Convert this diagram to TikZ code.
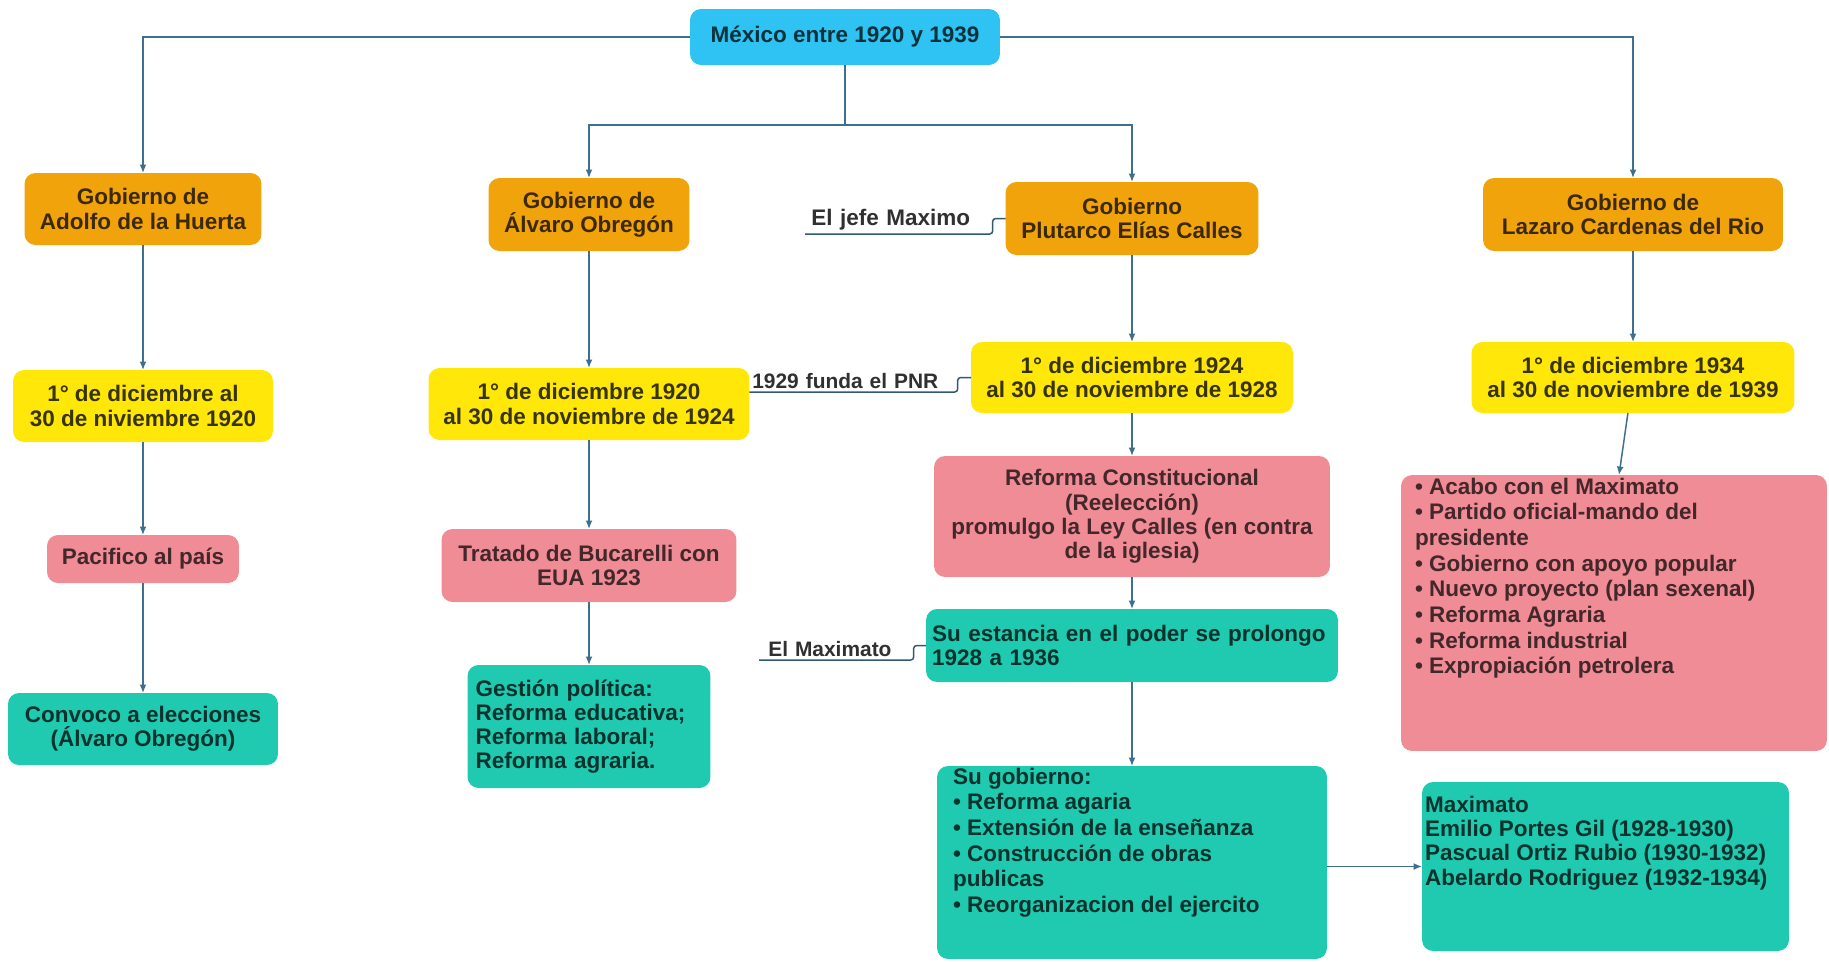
\documentclass[tikz,border=0pt]{standalone}
\usepackage{fontspec}
\setmainfont{Liberation Sans}
\usetikzlibrary{arrows.meta}

\definecolor{celeste}{HTML}{2EC3F2}
\definecolor{naranja}{HTML}{F0A30B}
\definecolor{amarillo}{HTML}{FFE70A}
\definecolor{rosa}{HTML}{EF8C96}
\definecolor{verde}{HTML}{1FCAB0}
\definecolor{azulgris}{HTML}{3F6F8E}
\definecolor{tinta}{HTML}{303030}

\tikzset{
  caja/.style={rounded corners=0.22cm, align=center, inner sep=0.1cm, outer sep=0pt,
    font=\fontsize{12.8}{13.8}\selectfont\bfseries},
  raiz/.style={caja, fill=celeste, text=celeste!25!black},
  gobierno/.style={caja, fill=naranja, text=naranja!25!black},
  fecha/.style={caja, fill=amarillo, text=amarillo!22!black},
  hecho/.style={caja, fill=rosa, text=rosa!28!black},
  logro/.style={caja, fill=verde, text=verde!25!black},
  etiqueta/.style={anchor=south west, align=left, inner ysep=0.06cm, text=tinta,
    font=\fontsize{12.8}{13.8}\selectfont\bfseries},
  flecha/.style={draw=azulgris, line width=0.03cm, -{Latex[length=0.17cm,width=0.14cm]}},
  tramo/.style={draw=azulgris, line width=0.03cm},
  enlace/.style={draw=azulgris!80!black, line width=0.03cm, rounded corners=0.06cm}
}
\newcommand{\renglones}{\fontsize{12.8}{14.6}\selectfont}

\begin{document}
\begin{tikzpicture}[x=0.02cm, y=-0.02cm]
\useasboundingbox (0,0) rectangle (1829,961);

%%%%% START %%%%%

\node[raiz, minimum width=6.2cm, minimum height=1.12cm] (mexico) at (845,37) {México entre 1920 y 1939};

% gobiernos
\node[gobierno, minimum width=4.74cm, minimum height=1.44cm] (huerta) at (143,209) {Gobierno de\\Adolfo de la Huerta};
\node[gobierno, minimum width=4.02cm, minimum height=1.46cm] (obregon) at (589,214.5) {Gobierno de\\Álvaro Obregón};
\node[gobierno, minimum width=5.06cm, minimum height=1.46cm] (calles) at (1132,218.5) {Gobierno\\Plutarco Elías Calles};
\node[gobierno, minimum width=6.0cm, minimum height=1.46cm] (cardenas) at (1633,214.5) {Gobierno de\\Lazaro Cardenas del Rio};

% periodos
\node[fecha, minimum width=5.2cm, minimum height=1.44cm] (fecha1) at (143,406) {1° de diciembre al\\30 de niviembre 1920};
\node[fecha, minimum width=6.42cm, minimum height=1.44cm] (fecha2) at (589,404) {1° de diciembre 1920\\al 30 de noviembre de 1924};
\node[fecha, minimum width=6.44cm, minimum height=1.42cm] (fecha3) at (1132,377.5) {1° de diciembre 1924\\al 30 de noviembre de 1928};
\node[fecha, minimum width=6.46cm, minimum height=1.42cm] (fecha4) at (1633,377.5) {1° de diciembre 1934\\al 30 de noviembre de 1939};

% hechos
\node[hecho, minimum width=3.84cm, minimum height=0.96cm] (pacifico) at (143,559) {Pacifico al país};
\node[hecho, minimum width=5.9cm, minimum height=1.46cm] (bucarelli) at (589,565.5) {Tratado de Bucarelli con\\EUA 1923};
\node[hecho, minimum width=7.92cm, minimum height=2.42cm] (reforma) at (1132,516.5) {Reforma Constitucional\\(Reelección)\\promulgo la Ley Calles (en contra\\de la iglesia)};
\node[hecho, inner xsep=0.28cm, inner ysep=0.06cm] (lista) at (1614,613)
  {\parbox[c][5.4cm][t]{7.96cm}{\renglones\raggedright
   • Acabo con el Maximato\\
   • Partido oficial-mando del\\
   presidente\\
   • Gobierno con apoyo popular\\
   • Nuevo proyecto (plan sexenal)\\
   • Reforma Agraria\\
   • Reforma industrial\\
   • Expropiación petrolera}};

% logros
\node[logro, minimum width=5.4cm, minimum height=1.44cm] (convoco) at (143,729) {Convoco a elecciones\\(Álvaro Obregón)};
\node[logro, align=left, text width=4.54cm, inner xsep=0.16cm, minimum height=2.46cm] (gestion) at (589,726.5) {Gestión política:\\Reforma educativa;\\Reforma laboral;\\Reforma agraria.};
\node[logro, align=left, text width=8.0cm, inner xsep=0.12cm, minimum height=1.46cm] (estancia) at (1132,645.5) {Su estancia en el poder se prolongo\\1928 a 1936};
\node[logro, inner xsep=0.32cm, inner ysep=0.04cm] (sugob) at (1132,862.5)
  {\parbox[c][3.78cm][t]{7.16cm}{\renglones\raggedright
   Su gobierno:\\
   • Reforma agaria\\
   • Extensión de la enseñanza\\
   • Construcción de obras\\
   publicas\\
   • Reorganizacion del ejercito}};
\node[logro, inner xsep=0.06cm, inner ysep=0.28cm] (maximato) at (1605.5,866.5)
  {\parbox[c][2.82cm][t]{7.22cm}{\raggedright
   Maximato\\
   Emilio Portes Gil (1928-1930)\\
   Pascual Ortiz Rubio (1930-1932)\\
   Abelardo Rodriguez (1932-1934)}};

% etiquetas
\node[etiqueta, text width=3.5cm, inner xsep=0.12cm] (jefe) at (805,234) {El jefe Maximo};
\node[etiqueta, text width=4.06cm, inner xsep=0.04cm, font=\fontsize{11.9}{13}\selectfont\bfseries] (pnr) at (750,392) {1929 funda el PNR};
\node[etiqueta, text width=2.72cm, inner xsep=0.18cm, font=\fontsize{11.9}{13}\selectfont\bfseries] (maxlab) at (759,660) {El Maximato};

% ramas desde la raiz
\coordinate (rama) at (845,125);
\draw[flecha] (mexico.west) -| (huerta.north);
\draw[flecha] (mexico.east) -| (cardenas.north);
\draw[tramo] (mexico.south) -- (rama);
\draw[flecha] (rama) -| (obregon.north);
\draw[flecha] (rama) -| (calles.north);

% columnas
\draw[flecha] (huerta) -- (fecha1);
\draw[flecha] (fecha1) -- (pacifico);
\draw[flecha] (pacifico) -- (convoco);

\draw[flecha] (obregon) -- (fecha2);
\draw[flecha] (fecha2) -- (bucarelli);
\draw[flecha] (bucarelli) -- (gestion);

\draw[flecha] (calles) -- (fecha3);
\draw[flecha] (fecha3) -- (reforma);
\draw[flecha] (reforma) -- (estancia);
\draw[flecha] (estancia) -- (sugob);
\draw[flecha] (sugob.east |- maximato.west) -- (maximato.west);

\draw[flecha] (cardenas) -- (fecha4);
\draw[flecha] (fecha4) -- ([xshift=0.1cm]lista.north);

% subrayados
\draw[enlace] (jefe.south west) -- (jefe.south east) |- (calles.west);
\draw[enlace] (fecha2.east |- pnr.south) -- (pnr.south east) |- (fecha3.west);
\draw[enlace] (maxlab.south west) -- (maxlab.south east) |- (estancia.west);

%%%%% END %%%%%
\end{tikzpicture}
\end{document}
